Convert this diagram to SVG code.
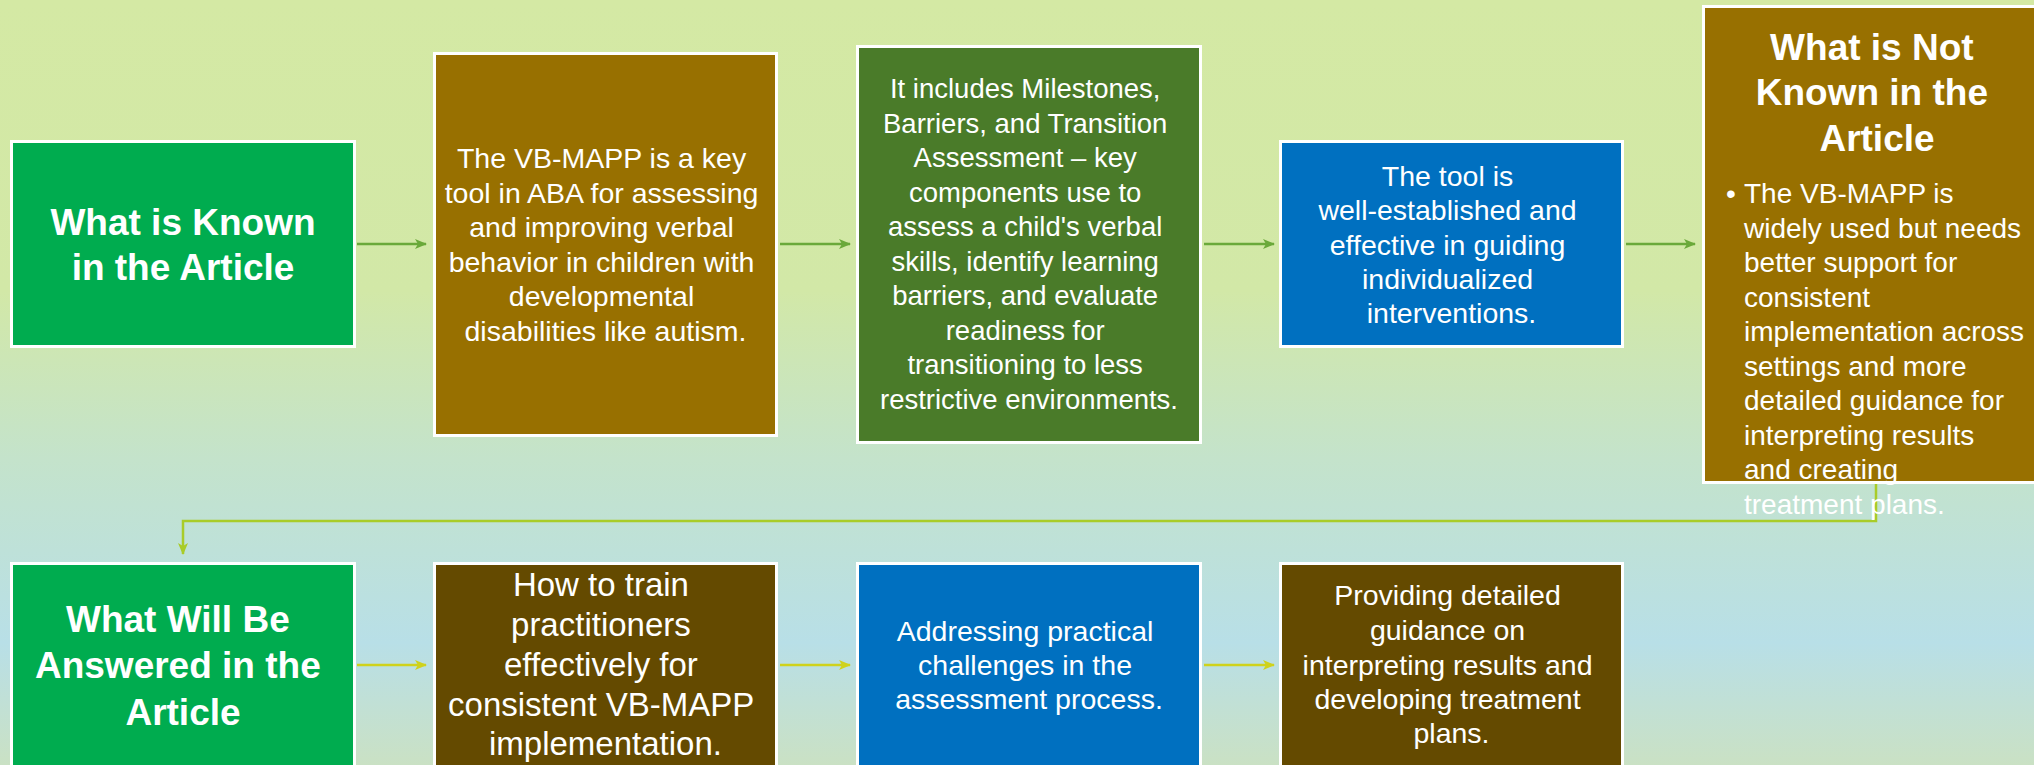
<svg xmlns="http://www.w3.org/2000/svg" width="2034" height="765" viewBox="0 0 2034 765">
  <defs>
    <linearGradient id="bg" x1="0" y1="0" x2="0" y2="1">
      <stop offset="0" stop-color="#d4e9a4"/>
      <stop offset="0.38" stop-color="#d2e8a7"/>
      <stop offset="0.6" stop-color="#c4e3cb"/>
      <stop offset="0.84" stop-color="#b8dfe7"/>
      <stop offset="1" stop-color="#cae1c4"/>
    </linearGradient>
    <marker id="aG" viewBox="0 0 12 10" refX="11" refY="5" markerWidth="12" markerHeight="10" markerUnits="userSpaceOnUse" orient="auto">
      <path d="M0,0 L12,5 L0,10 L3,5 z" fill="#6aa93a"/>
    </marker>
    <marker id="aE" viewBox="0 0 12 10" refX="11" refY="5" markerWidth="12" markerHeight="10" markerUnits="userSpaceOnUse" orient="auto">
      <path d="M0,0 L12,5 L0,10 L3,5 z" fill="#a9cc28"/>
    </marker>
    <marker id="aY" viewBox="0 0 12 10" refX="11" refY="5" markerWidth="12" markerHeight="10" markerUnits="userSpaceOnUse" orient="auto">
      <path d="M0,0 L12,5 L0,10 L3,5 z" fill="#cfd21c"/>
    </marker>
  </defs>
  <style>
    .box { stroke: #ffffff; stroke-width: 3; }
    .t { font-family: "Liberation Sans", Arial, sans-serif; fill: #ffffff; text-anchor: middle; font-size: 28.5px; }
    .h { font-family: "Liberation Sans", Arial, sans-serif; fill: #ffffff; text-anchor: middle; font-size: 37px; font-weight: bold; }
    .b { font-family: "Liberation Sans", Arial, sans-serif; fill: #ffffff; font-size: 28px; }
    .green { fill: #00ac4f; }
    .brown { fill: #987000; }
    .dkgreen { fill: #4a7b29; }
    .blue { fill: #0070c0; }
    .dkbrown { fill: #644a00; }
    .cg { stroke: #6aa93a; stroke-width: 2.5; fill: none; }
    .ce { stroke: #a9cc28; stroke-width: 2.5; fill: none; }
    .cy { stroke: #cfd21c; stroke-width: 2.5; fill: none; }
  </style>
  <rect x="0" y="0" width="2034" height="765" fill="url(#bg)"/>

  <g id="connectors">
    <line class="cg" x1="357" y1="244" x2="426" y2="244" marker-end="url(#aG)"/>
    <line class="cg" x1="780" y1="244" x2="850" y2="244" marker-end="url(#aG)"/>
    <line class="cg" x1="1204" y1="244" x2="1274" y2="244" marker-end="url(#aG)"/>
    <line class="cg" x1="1626" y1="244" x2="1695" y2="244" marker-end="url(#aG)"/>
    <path class="ce" d="M1876,483 V521 H183 V554" marker-end="url(#aE)"/>
    <line class="cy" x1="357" y1="665" x2="426" y2="665" marker-end="url(#aY)"/>
    <line class="cy" x1="780" y1="665" x2="850" y2="665" marker-end="url(#aY)"/>
    <line class="cy" x1="1204" y1="665" x2="1274" y2="665" marker-end="url(#aY)"/>
  </g>

  <g id="node-known">
    <rect class="box green" x="11.5" y="141.5" width="343" height="205"/>
    <text class="h"><tspan x="183" y="235">What is Known</tspan><tspan x="183" y="280">in the Article</tspan></text>
  </g>

  <g id="node-vbmapp">
    <rect class="box brown" x="434.5" y="53.5" width="342" height="382"/>
    <text class="t">
      <tspan x="605.5" y="168">The VB-MAPP is a key</tspan>
      <tspan x="605.5" y="202.5">tool in ABA for assessing</tspan>
      <tspan x="605.5" y="237">and improving verbal</tspan>
      <tspan x="605.5" y="271.5">behavior in children with</tspan>
      <tspan x="605.5" y="306">developmental</tspan>
      <tspan x="605.5" y="340.5">disabilities like autism.</tspan>
    </text>
  </g>

  <g id="node-includes">
    <rect class="box dkgreen" x="857.5" y="46.5" width="343" height="396"/>
    <text class="t" style="font-size:27.5px">
      <tspan x="1029" y="98">It includes Milestones,</tspan>
      <tspan x="1029" y="132.5">Barriers, and Transition</tspan>
      <tspan x="1029" y="167">Assessment – key</tspan>
      <tspan x="1029" y="201.5">components use to</tspan>
      <tspan x="1029" y="236">assess a child's verbal</tspan>
      <tspan x="1029" y="270.5">skills, identify learning</tspan>
      <tspan x="1029" y="305">barriers, and evaluate</tspan>
      <tspan x="1029" y="339.5">readiness for</tspan>
      <tspan x="1029" y="374">transitioning to less</tspan>
      <tspan x="1029" y="408.5">restrictive environments.</tspan>
    </text>
  </g>

  <g id="node-tool">
    <rect class="box blue" x="1280.5" y="141.5" width="342" height="205"/>
    <text class="t">
      <tspan x="1451.5" y="186">The tool is</tspan>
      <tspan x="1451.5" y="220">well-established and</tspan>
      <tspan x="1451.5" y="254.5">effective in guiding</tspan>
      <tspan x="1451.5" y="289">individualized</tspan>
      <tspan x="1451.5" y="323">interventions.</tspan>
    </text>
  </g>

  <g id="node-notknown">
    <rect class="box brown" x="1703.5" y="6.5" width="346" height="476"/>
    <text class="h">
      <tspan x="1877" y="60">What is Not</tspan>
      <tspan x="1877" y="105">Known in the</tspan>
      <tspan x="1877" y="151">Article</tspan>
    </text>
    <text class="b">
      <tspan x="1726" y="203">•</tspan>
      <tspan x="1744" y="203">The VB-MAPP is</tspan>
      <tspan x="1744" y="237.5">widely used but needs</tspan>
      <tspan x="1744" y="272">better support for</tspan>
      <tspan x="1744" y="306.5">consistent</tspan>
      <tspan x="1744" y="341">implementation across</tspan>
      <tspan x="1744" y="375.5">settings and more</tspan>
      <tspan x="1744" y="410">detailed guidance for</tspan>
      <tspan x="1744" y="444.5">interpreting results</tspan>
      <tspan x="1744" y="479">and creating</tspan>
      <tspan x="1744" y="513.5">treatment plans.</tspan>
    </text>
  </g>

  <g id="node-answered">
    <rect class="box green" x="11.5" y="563.5" width="343" height="205"/>
    <text class="h">
      <tspan x="183" y="632">What Will Be</tspan>
      <tspan x="183" y="678">Answered in the</tspan>
      <tspan x="183" y="725">Article</tspan>
    </text>
  </g>

  <g id="node-train">
    <rect class="box dkbrown" x="434.5" y="563.5" width="342" height="205"/>
    <text class="t" style="font-size:33px">
      <tspan x="605.5" y="596">How to train</tspan>
      <tspan x="605.5" y="636">practitioners</tspan>
      <tspan x="605.5" y="676">effectively for</tspan>
      <tspan x="605.5" y="716">consistent VB-MAPP</tspan>
      <tspan x="605.5" y="755">implementation.</tspan>
    </text>
  </g>

  <g id="node-challenges">
    <rect class="box blue" x="857.5" y="563.5" width="343" height="205"/>
    <text class="t">
      <tspan x="1029" y="641">Addressing practical</tspan>
      <tspan x="1029" y="675">challenges in the</tspan>
      <tspan x="1029" y="709">assessment process.</tspan>
    </text>
  </g>

  <g id="node-guidance">
    <rect class="box dkbrown" x="1280.5" y="563.5" width="342" height="205"/>
    <text class="t">
      <tspan x="1451.5" y="605">Providing detailed</tspan>
      <tspan x="1451.5" y="640">guidance on</tspan>
      <tspan x="1451.5" y="675">interpreting results and</tspan>
      <tspan x="1451.5" y="709">developing treatment</tspan>
      <tspan x="1451.5" y="743">plans.</tspan>
    </text>
  </g>
</svg>
